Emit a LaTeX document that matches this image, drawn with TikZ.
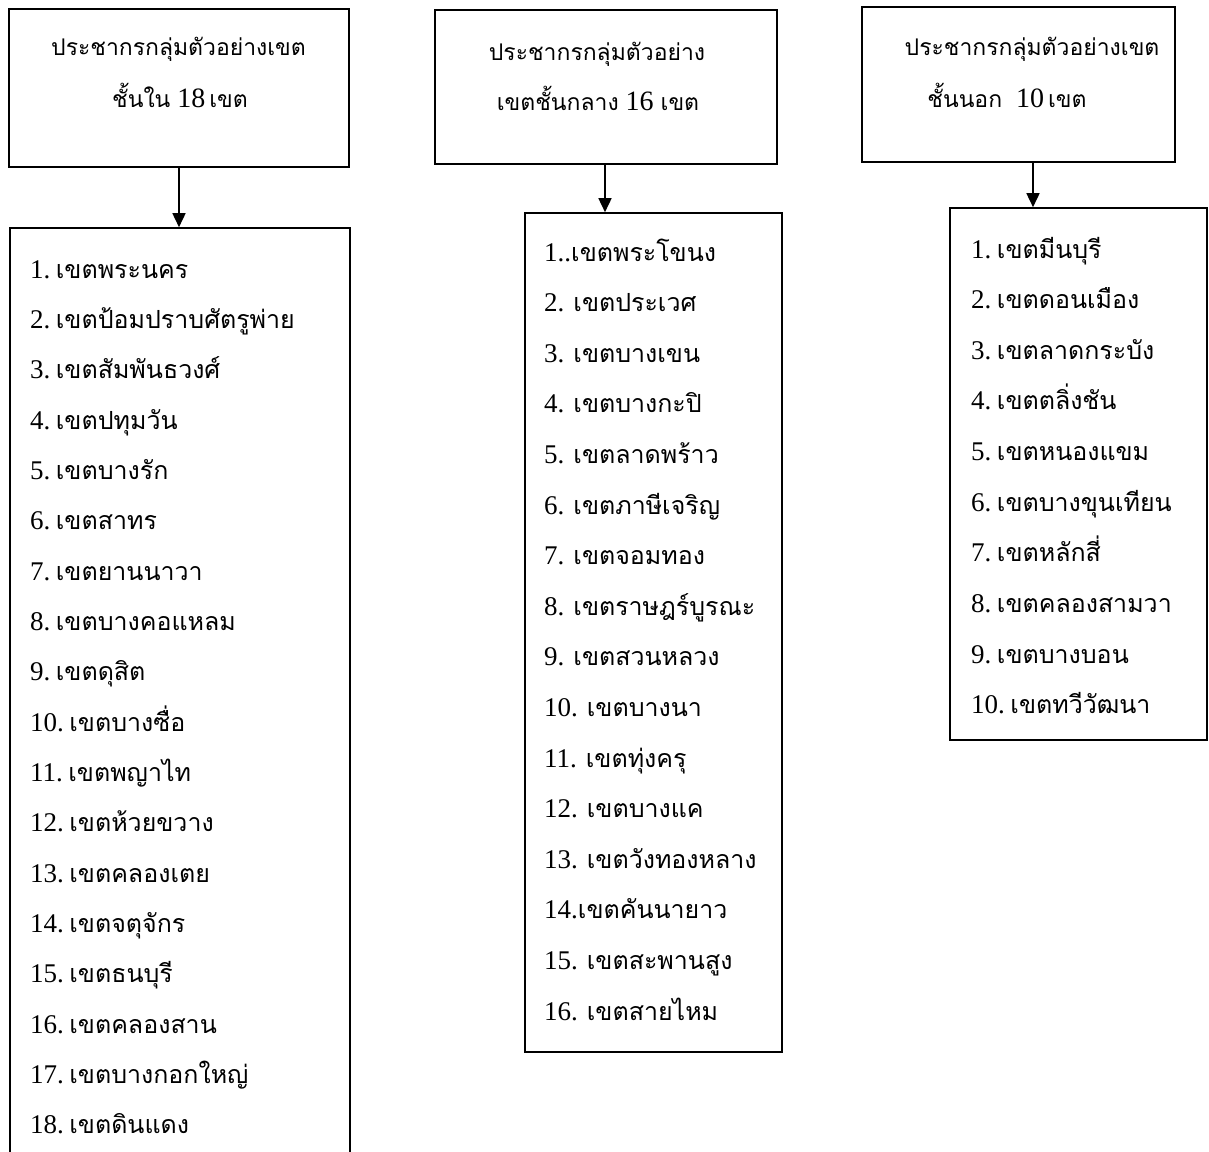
\documentclass[tikz,border=0pt]{standalone}
\usepackage{fontspec}
\setmainfont{Liberation Serif}
\newfontfamily\thaifont[Script=Thai,Scale=0.925]{Loma}
\newfontfamily\thaihfont[Script=Thai,Scale=0.82]{Loma}
\newcommand\tht[1]{{\thaifont #1}}
\newcommand\thh[1]{{\thaihfont #1}}
\usetikzlibrary{arrows.meta}
\begin{document}
\begin{tikzpicture}[x=1pt,y=-1pt,
  frame/.style={draw,line width=1.6pt,inner sep=0pt},
  hdr/.style={anchor=base,inner sep=0pt,font=\fontsize{28}{30}\selectfont},
  item/.style={anchor=base west,inner sep=0pt,font=\fontsize{27}{30}\selectfont},
  conn/.style={line width=1.6pt,-{Triangle[length=14pt,width=13pt]}}]
\useasboundingbox (0,0) rectangle (1209,1151);
% header boxes
\node[frame,minimum width=340pt,minimum height=158pt] (b1) at (179,88) {};
\node[frame,minimum width=342pt,minimum height=154pt] (b2) at (606,87) {};
\node[frame,minimum width=313pt,minimum height=155pt] (b3) at (1018.5,84.5) {};
% list boxes
\node[frame,minimum width=340pt,minimum height=945pt] (l1) at (180,700.5) {};
\node[frame,minimum width=257pt,minimum height=839pt] (l2) at (653.5,632.5) {};
\node[frame,minimum width=257pt,minimum height=532pt] (l3) at (1078.5,474) {};
% header texts
\node[hdr] (h1a) at (178.5,55) {\thh{ประชากรกลุ่มตัวอย่างเขต}};
\node[hdr] (h1b) at (180,107) {\thh{ชั้นใน} 18\kern4pt\thh{เขต}};
\node[hdr] (h2a) at (597,60) {\thh{ประชากรกลุ่มตัวอย่าง}};
\node[hdr] (h2b) at (598,110) {\thh{เขตชั้นกลาง} 16 \thh{เขต}};
\node[hdr] (h3a) at (1032,55) {\thh{ประชากรกลุ่มตัวอย่างเขต}};
\node[hdr] (h3b) at (1007,107) {\thh{ชั้นนอก}\ \ 10\kern4pt\thh{เขต}};
% connectors
\draw[conn] (b1.south) -- (b1.south |- l1.north);
\draw[conn] ([xshift=-1pt]b2.south) -- ([xshift=-1pt]b2.south |- l2.north);
\coordinate (c3) at ([xshift=14.5pt]b3.south);
\draw[conn] (c3) -- (c3 |- l3.north);
% list 1
\foreach \t [count=\i] in {
 เขตพระนคร, เขตป้อมปราบศัตรูพ่าย, เขตสัมพันธวงศ์, เขตปทุมวัน, เขตบางรัก,
 เขตสาทร, เขตยานนาวา, เขตบางคอแหลม, เขตดุสิต, เขตบางซื่อ, เขตพญาไท,
 เขตห้วยขวาง, เขตคลองเตย, เขตจตุจักร, เขตธนบุรี, เขตคลองสาน,
 เขตบางกอกใหญ่, เขตดินแดง}
 \node[item] (a\i) at (30,{278+50.35*(\i-1)}) {\i.\kern5.5pt\tht{\t}};
% list 2
\foreach \t [count=\i] in {
 {1..\tht{เขตพระโขนง}},
 {2. \tht{เขตประเวศ}},
 {3. \tht{เขตบางเขน}},
 {4. \tht{เขตบางกะปิ}},
 {5. \tht{เขตลาดพร้าว}},
 {6. \tht{เขตภาษีเจริญ}},
 {7. \tht{เขตจอมทอง}},
 {8. \tht{เขตราษฎร์บูรณะ}},
 {9. \tht{เขตสวนหลวง}},
 {10. \tht{เขตบางนา}},
 {11. \tht{เขตทุ่งครุ}},
 {12. \tht{เขตบางแค}},
 {13. \tht{เขตวังทองหลาง}},
 {14.\tht{เขตคันนายาว}},
 {15. \tht{เขตสะพานสูง}},
 {16. \tht{เขตสายไหม}}}
 \node[item] (m\i) at (544,{261+50.6*(\i-1)}) {\t};
% list 3
\foreach \t [count=\i] in {
 เขตมีนบุรี, เขตดอนเมือง, เขตลาดกระบัง, เขตตลิ่งชัน, เขตหนองแขม,
 เขตบางขุนเทียน, เขตหลักสี่, เขตคลองสามวา, เขตบางบอน, เขตทวีวัฒนา}
 \node[item] (o\i) at (971,{258+50.65*(\i-1)}) {\i.\kern5.5pt\tht{\t}};
\end{tikzpicture}
\end{document}
